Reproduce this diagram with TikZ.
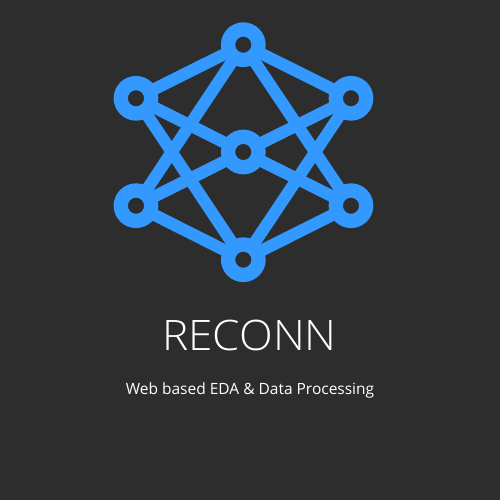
\documentclass[tikz,border=0pt]{standalone}
\usepackage{fontspec}
\setmainfont{Open Sans}
\newfontfamily\titlefont[FakeStretch=1.05]{Open Sans Light}
\definecolor{bgdark}{HTML}{2D2D2D}
\definecolor{netblue}{HTML}{3399FF}
\tikzset{
  ring/.style={circle,draw=netblue,fill=bgdark,line width=14.3pt,minimum size=30.4pt,inner sep=0pt,outer sep=0pt},
  edge/.style={draw=netblue,line width=12pt},
  titletext/.style={text=white,inner sep=0pt,anchor=center}
}
\begin{document}
\begin{tikzpicture}[x=1pt,y=-1pt]
\fill[bgdark] (0,0) rectangle (500,500);
\useasboundingbox (0,0) rectangle (500,500);
\node[ring] (T) at (243.3,44.7) {};
\node[ring] (LT) at (136,98.3) {};
\node[ring] (RT) at (351,98.3) {};
\node[ring] (C) at (243.3,152) {};
\node[ring] (LB) at (136,205.7) {};
\node[ring] (RB) at (351,205.7) {};
\node[ring] (B) at (243.3,259.7) {};
\foreach \a/\b in {T/LT,T/RT,T/LB,T/RB,B/LB,B/RB,B/LT,B/RT,LT/C,RT/C,LB/C,RB/C}
  \draw[edge] (\a) -- (\b);
\node[titletext,font=\titlefont\fontsize{42}{42}\selectfont] (title) at (249.5,335.5) {RECONN};
\node[titletext,font=\fontsize{15.5}{18}\selectfont] (sub) at (250,390.5) {Web based EDA \& Data Processing};
\end{tikzpicture}
\end{document}
